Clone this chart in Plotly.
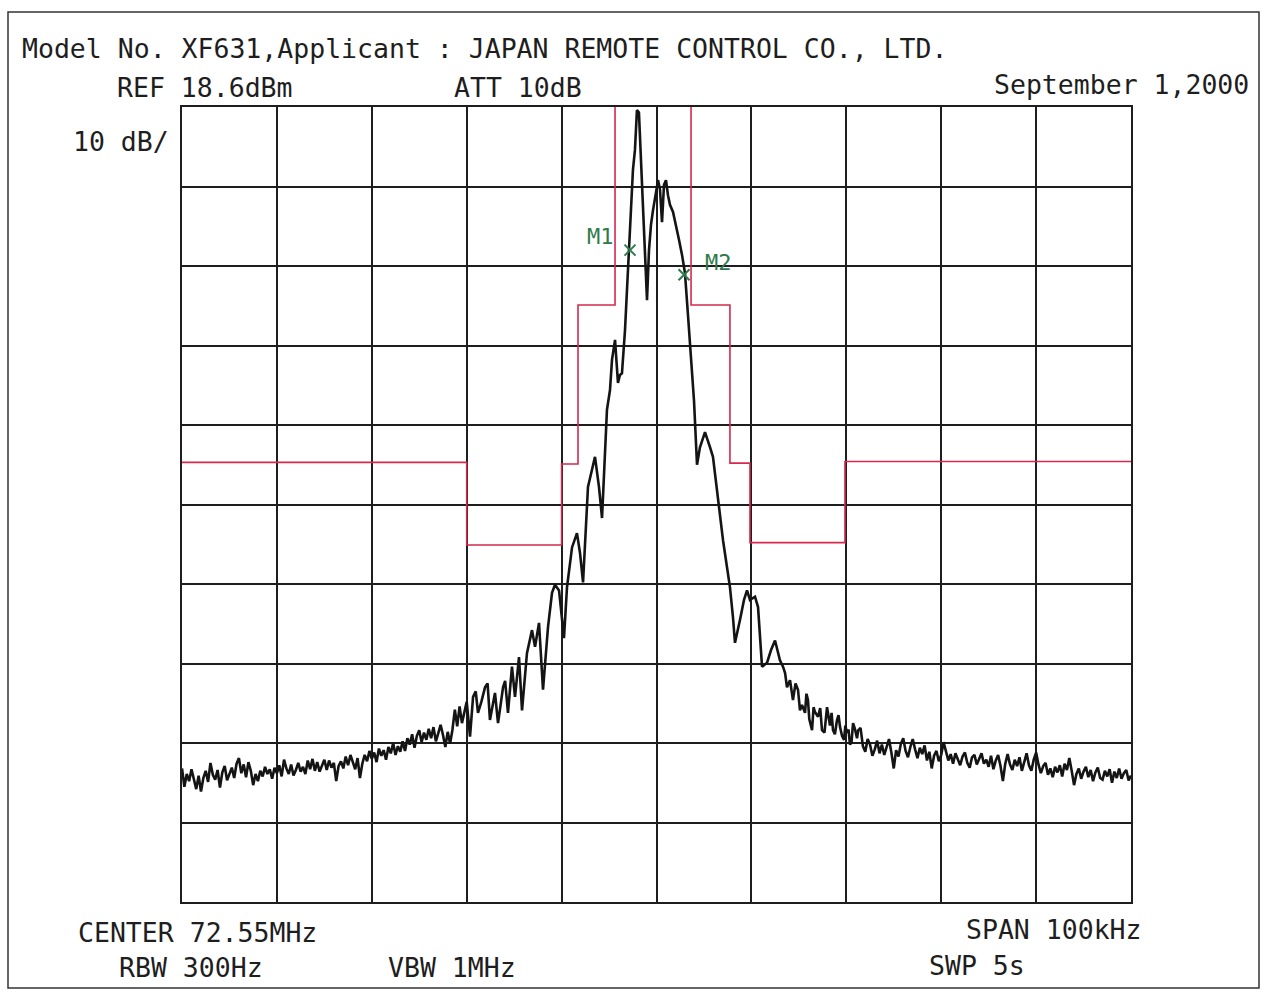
import plotly.graph_objects as go

# ---------------- data ----------------
# left noise floor, kHz offset from centre
left_tail_khz = [
    -50.00, -49.75, -49.50, -49.25, -49.00, -48.75, -48.50, -48.25, -48.00, -47.75,
    -47.50, -47.25, -47.00, -46.75, -46.50, -46.25, -46.00, -45.75, -45.50, -45.25,
    -45.00, -44.75, -44.50, -44.25, -44.00, -43.75, -43.50, -43.25, -43.00, -42.75,
    -42.50, -42.25, -42.00, -41.75, -41.50, -41.25, -41.00, -40.75, -40.50, -40.25,
    -40.00, -39.75, -39.50, -39.25, -39.00, -38.75, -38.50, -38.25, -38.00, -37.75,
    -37.50, -37.25, -37.00, -36.75, -36.50, -36.25, -36.00, -35.75, -35.50, -35.25,
    -35.00, -34.75, -34.50, -34.25, -34.00, -33.75, -33.50, -33.25, -33.00, -32.75,
    -32.50, -32.25, -32.00, -31.75, -31.50, -31.25, -31.00, -30.75, -30.50, -30.25,
    -30.00, -29.75, -29.50, -29.25, -29.00, -28.75, -28.50, -28.25, -28.00, -27.75,
    -27.50, -27.25, -27.00, -26.75, -26.50, -26.25, -26.00, -25.75, -25.50, -25.25,
    -25.00, -24.75, -24.50, -24.25, -24.00, -23.75, -23.50, -23.25, -23.00, -22.75,
    -22.50, -22.25, -22.00, -21.75, -21.50, -21.25, -21.00, -20.75, -20.50, -20.25,
    -20.00,
]
left_tail_dbm = [
    -64.6, -66.9, -65.3, -66.2, -64.7, -65.9, -67.2, -65.5, -67.5, -65.8,
    -64.9, -66.3, -63.9, -65.4, -66.0, -64.8, -67.0, -65.1, -64.3, -66.1,
    -65.4, -64.5, -65.8, -64.0, -63.3, -65.2, -64.1, -65.7, -63.8, -64.9,
    -66.7, -65.3, -66.2, -64.9, -65.6, -64.4, -65.3, -64.7, -65.9, -64.5,
    -65.2, -64.2, -65.6, -63.5, -64.6, -65.3, -64.1, -65.5, -64.8, -63.9,
    -65.0, -64.4, -65.3, -63.6, -64.7, -63.4, -64.9, -63.8, -65.0, -64.2,
    -63.5, -64.8, -63.6, -64.5, -63.9, -66.2, -64.3, -63.7, -64.6, -63.1,
    -64.2, -62.9, -63.8, -64.7, -63.3, -65.8, -64.0, -62.9, -63.7, -62.4,
    -63.4, -62.6, -63.8, -62.1, -63.0, -62.3, -63.5, -61.9, -62.7, -61.4,
    -62.9, -61.8, -62.5, -61.2, -62.4, -60.8, -61.6, -60.3, -62.0, -60.5,
    -59.8, -61.3, -60.1, -61.0, -59.6, -60.8, -59.4, -61.2, -60.2, -59.1,
    -60.4, -61.9, -60.0, -61.5, -59.7, -57.2, -59.3, -56.8, -58.9, -57.5,
    -56.2,
]

# rising skirt, lower side
rise_khz = [
    -19.65, -19.33, -19.05, -18.81, -18.45, -18.07, -17.80, -17.55, -17.02, -16.70,
    -16.45, -16.17, -15.95, -15.65, -15.23, -14.91, -14.70, -14.49, -14.17, -13.90,
    -13.65, -13.12, -12.80, -12.38, -11.96, -11.43, -11.01, -10.70, -10.27, -9.75,
    -9.43, -8.90, -8.38, -8.06, -7.74, -7.22, -6.48, -6.06, -5.74, -5.22,
]
rise_dbm = [
    -60.6, -55.6, -54.9, -57.6, -56.2, -54.4, -53.9, -58.5, -55.1, -58.9,
    -56.8, -54.4, -53.6, -57.6, -51.8, -55.6, -53.1, -50.6, -57.3, -53.8,
    -50.1, -47.2, -49.3, -46.3, -54.7, -46.8, -42.5, -41.5, -42.2, -48.2,
    -41.8, -36.8, -35.0, -37.5, -41.2, -29.2, -25.4, -29.2, -33.1, -19.5,
]

# main lobe
peak_khz = [
    -4.90, -4.69, -4.37, -4.06, -3.85, -3.64, -3.32, -3.11, -2.90, -2.69,
    -2.48, -2.27, -2.06, -1.85, -1.64, -1.42, -1.21, -1.00, -0.79, -0.58,
    -0.37, -0.05, 0.16, 0.37, 0.58, 0.79, 1.00, 1.21, 1.42, 1.74,
    2.05, 2.37, 2.69, 3.00, 3.32, 3.64, 3.95, 4.27, 4.58, 5.11,
    5.43, 5.64, 5.95, 6.38, 6.69, 7.01, 7.43, 7.74, 8.06, 8.27,
    8.80, 9.22, 9.54, 9.85, 10.38, 10.70,
]
peak_dbm = [
    -17.0, -13.2, -10.7, -16.1, -15.1, -14.9, -9.5, -4.4, 0.6, 6.9,
    10.7, 13.2, 18.2, 17.9, 11.9, 4.4, -1.9, -5.7, 0.6, 3.8,
    5.6, 8.2, 9.4, 8.2, 4.1, 8.8, 9.4, 7.5, 6.3, 5.4,
    3.8, 1.9, 0.0, -2.3, -7.6, -12.6, -18.3, -26.4, -24.2, -22.3,
    -23.3, -24.2, -25.4, -29.9, -32.5, -35.9, -39.3, -41.8, -45.6, -48.8,
    -45.9, -43.4, -42.2, -43.4, -43.0, -44.3,
]

# falling skirt, upper side
fall_khz = [
    11.12, 11.65, 12.07, 12.49, 13.01, 13.33, 13.55, 13.75, 14.07, 14.22,
    14.38, 14.65, 14.91, 15.12, 15.33, 15.65, 15.80, 15.96, 16.10, 16.39,
    16.55, 16.70, 17.02, 17.25, 17.44, 17.70, 17.97, 18.28, 18.45, 18.60,
    18.80, 19.02, 19.18, 19.34, 19.55, 19.76, 19.90, 20.07, 20.23, 20.39,
    20.55, 20.71, 20.90, 21.13,
]
fall_dbm = [
    -51.8, -51.3, -49.7, -48.5, -51.0, -51.8, -52.6, -54.4, -53.5, -55.1,
    -56.0, -53.9, -54.7, -57.3, -56.6, -57.6, -55.2, -56.0, -58.4, -59.8,
    -56.9, -57.5, -58.1, -57.0, -59.8, -60.1, -56.9, -59.2, -57.6, -59.8,
    -60.3, -58.5, -57.9, -59.4, -60.5, -61.0, -59.2, -60.1, -59.7, -61.6,
    -61.3, -58.9, -59.6, -60.8,
]

# right noise floor
right_tail_khz = [
    21.25, 21.50, 21.75, 22.00, 22.25, 22.50, 22.75, 23.00, 23.25, 23.50,
    23.75, 24.00, 24.25, 24.50, 24.75, 25.00, 25.25, 25.50, 25.75, 26.00,
    26.25, 26.50, 26.75, 27.00, 27.25, 27.50, 27.75, 28.00, 28.25, 28.50,
    28.75, 29.00, 29.25, 29.50, 29.75, 30.00, 30.25, 30.50, 30.75, 31.00,
    31.25, 31.50, 31.75, 32.00, 32.25, 32.50, 32.75, 33.00, 33.25, 33.50,
    33.75, 34.00, 34.25, 34.50, 34.75, 35.00, 35.25, 35.50, 35.75, 36.00,
    36.25, 36.50, 36.75, 37.00, 37.25, 37.50, 37.75, 38.00, 38.25, 38.50,
    38.75, 39.00, 39.25, 39.50, 39.75, 40.00, 40.25, 40.50, 40.75, 41.00,
    41.25, 41.50, 41.75, 42.00, 42.25, 42.50, 42.75, 43.00, 43.25, 43.50,
    43.75, 44.00, 44.25, 44.50, 44.75, 45.00, 45.25, 45.50, 45.75, 46.00,
    46.25, 46.50, 46.75, 47.00, 47.25, 47.50, 47.75, 48.00, 48.25, 48.50,
    48.75, 49.00, 49.25, 49.50, 49.75, 50.00,
]
right_tail_dbm = [
    -59.8, -59.5, -61.8, -62.5, -60.9, -61.6, -63.0, -62.2, -61.1, -62.7,
    -61.6, -62.9, -61.8, -60.9, -62.6, -64.6, -62.3, -63.1, -61.5, -60.8,
    -62.4, -63.2, -61.9, -60.9, -62.2, -63.3, -62.0, -62.8, -61.7, -63.6,
    -62.5, -64.6, -63.0, -62.4, -63.7, -62.9, -61.3, -62.5, -63.6, -62.8,
    -64.0, -62.7, -63.5, -64.2, -63.1, -62.6, -63.9, -64.5, -63.2, -62.9,
    -64.1, -63.4, -62.7, -64.0, -63.5, -64.4, -63.0, -64.7, -63.6, -62.9,
    -64.3, -66.2, -64.0, -62.8, -64.1, -64.8, -63.5, -64.3, -63.2, -64.9,
    -63.8, -62.7, -64.2, -64.9, -63.5, -62.6, -64.1, -65.2, -64.3, -63.9,
    -65.4, -64.6, -65.7, -64.4, -65.1, -64.2, -65.6, -64.0, -64.8, -63.3,
    -64.9, -66.7, -65.3, -64.6, -65.9, -65.0, -64.4, -65.7, -64.8, -66.2,
    -65.1, -64.5, -65.8, -66.0, -64.9, -65.6, -64.7, -66.4, -65.0, -65.8,
    -64.6, -65.9, -65.2, -64.8, -66.1, -65.5,
]

# limit mask (step line, level holds until next breakpoint)
mask_freq_khz = [-50.0, -20.0, -10.0, -8.27, -4.37, 3.64, 7.74, 9.85, 19.86, 50.0]
mask_dbm = [-26.1, -36.5, -26.3, -6.3, 25.0, -6.3, -26.2, -36.2, -26.0, -26.0]

# markers
marker_names = ["M1", "M2"]
marker_freq_khz = [-2.79, 2.90]
marker_dbm = [0.6, -2.5]
marker_label_khz = [-5.85, 6.48]
marker_label_dbm = [2.25, -0.9]

ref_level_dbm = 18.6
db_per_div = 10
span_khz = 100

header_text = "Model No. XF631,Applicant : JAPAN REMOTE CONTROL CO., LTD."
ref_text = "REF 18.6dBm"
att_text = "ATT 10dB"
date_text = "September 1,2000"
scale_text = "10 dB/"
center_text = "CENTER 72.55MHz"
rbw_text = "RBW 300Hz"
vbw_text = "VBW 1MHz"
span_text = "SPAN 100kHz"
swp_text = "SWP 5s"

# ---------------- assemble trace ----------------
pairs = sorted(
    list(zip(left_tail_khz, left_tail_dbm))
    + list(zip(rise_khz, rise_dbm))
    + list(zip(peak_khz, peak_dbm))
    + list(zip(fall_khz, fall_dbm))
    + list(zip(right_tail_khz, right_tail_dbm))
)
freq_khz = [p[0] for p in pairs]
level_dbm = [p[1] for p in pairs]

# ---------------- layout helpers ----------------
W, H = 1272, 994
L, R, T, B = 182, 1131, 107, 902


def px(x):
    return (x - L) / (R - L)


def py(y):
    return (B - y) / (B - T)


FONT = "DejaVu Sans Mono"
TXT = "#1e1e1e"
GREEN = "#2e7a4c"
RED = "#d42a4e"
FS = 26.5

fig = go.Figure()

fig.add_trace(go.Scatter(
    x=mask_freq_khz, y=mask_dbm, mode="lines",
    line=dict(color=RED, width=1.6, shape="hv"),
    hoverinfo="skip", showlegend=False,
))

fig.add_trace(go.Scatter(
    x=freq_khz, y=level_dbm, mode="lines",
    line=dict(color="#141414", width=2.6),
    showlegend=False,
))

fig.add_trace(go.Scatter(
    x=marker_freq_khz, y=marker_dbm, mode="markers",
    marker=dict(symbol="x-thin", size=11, line=dict(color=GREEN, width=2)),
    showlegend=False,
))

annotations = []


def add_text(text, x, y, xanchor="left", size=FS, color=TXT):
    annotations.append(dict(
        text=text, x=x, y=y, xref="paper", yref="paper",
        xanchor=xanchor, yanchor="middle", showarrow=False,
        font=dict(family=FONT, size=size, color=color),
    ))


add_text(header_text, px(20), py(48))
add_text(ref_text, px(115), py(87))
add_text(att_text, px(452), py(87))
add_text(date_text, px(1251), py(84), xanchor="right")
add_text(scale_text, px(171), py(141), xanchor="right")
add_text(center_text, px(76), py(932))
add_text(rbw_text, px(117), py(967))
add_text(vbw_text, px(386), py(967))
add_text(span_text, px(1144), py(929), xanchor="right")
add_text(swp_text, px(927), py(965))

for name, lx, ly in zip(marker_names, marker_label_khz, marker_label_dbm):
    annotations.append(dict(
        text=name, x=lx, y=ly, xref="x", yref="y",
        xanchor="center", yanchor="middle", showarrow=False,
        font=dict(family=FONT, size=22, color=GREEN),
    ))

shapes = [dict(
    type="rect", xref="paper", yref="paper",
    x0=px(8), x1=px(1259), y0=py(988), y1=py(12),
    line=dict(color="#333333", width=1.5), fillcolor="rgba(0,0,0,0)", layer="below",
)]

fig.update_layout(
    width=W, height=H,
    margin=dict(l=L, r=W - R, t=T, b=H - B, pad=0),
    paper_bgcolor="white", plot_bgcolor="white",
    annotations=annotations, shapes=shapes,
    showlegend=False,
    xaxis=dict(
        range=[-span_khz / 2, span_khz / 2], tick0=-50, dtick=10,
        showgrid=True, gridcolor="#1e1e1e", gridwidth=1.6,
        zeroline=False, showticklabels=False, ticks="",
        showline=True, mirror=True, linecolor="#1e1e1e", linewidth=2,
        fixedrange=True,
    ),
    yaxis=dict(
        range=[ref_level_dbm - 10 * db_per_div, ref_level_dbm],
        tick0=ref_level_dbm, dtick=db_per_div,
        showgrid=True, gridcolor="#1e1e1e", gridwidth=1.6,
        zeroline=False, showticklabels=False, ticks="",
        showline=True, mirror=True, linecolor="#1e1e1e", linewidth=2,
        fixedrange=True,
    ),
)

fig.write_html(
    "out.html",
    config={"displayModeBar": False},
    post_script="document.body.style.margin='0px';document.body.style.overflow='hidden';",
)
